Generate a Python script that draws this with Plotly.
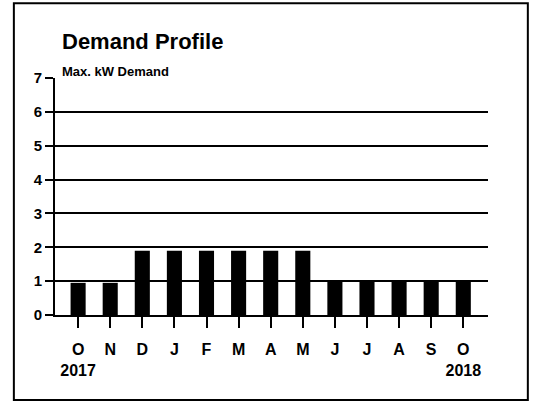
import plotly.graph_objects as go

months = ["O", "N", "D", "J", "F", "M", "A", "M", "J", "J", "A", "S", "O"]
tick_labels = ["O<br>2017", "N", "D", "J", "F", "M", "A", "M", "J", "J", "A", "S", "O<br>2018"]
demand_kw = [0.95, 0.95, 1.9, 1.9, 1.9, 1.9, 1.9, 1.9, 1.0, 1.0, 1.0, 1.0, 1.0]
y_ticks = [0, 1, 2, 3, 4, 5, 6, 7]

x_idx = list(range(len(months)))
FONT = "Liberation Sans, Arial, sans-serif"

fig = go.Figure()
fig.add_trace(go.Bar(
    x=x_idx, y=demand_kw, width=0.47,
    marker=dict(color="black", line=dict(width=0)),
    hoverinfo="skip",
))

fig.update_layout(
    width=537, height=409,
    margin=dict(l=55, r=49, t=78, b=94),
    paper_bgcolor="white", plot_bgcolor="white",
    showlegend=False,
    font=dict(family=FONT, color="black"),
    xaxis=dict(
        range=[-0.72, 12.77],
        tickmode="array", tickvals=x_idx, ticktext=tick_labels,
        ticks="outside", ticklen=11, tickwidth=2, tickcolor="black",
        ticklabelstandoff=8,
        showgrid=False, zeroline=False,
        showline=True, linecolor="black", linewidth=2,
        tickfont=dict(size=16, family=FONT, weight="bold", color="black"),
        automargin=False,
    ),
    yaxis=dict(
        range=[0, 7],
        tickmode="array", tickvals=y_ticks,
        ticks="outside", ticklen=8, tickwidth=1.5, tickcolor="black",
        showgrid=True, gridcolor="black", gridwidth=1.5,
        zeroline=False,
        showline=True, linecolor="black", linewidth=2,
        tickfont=dict(size=15, family=FONT, weight="bold", color="black"),
        automargin=False,
    ),
    annotations=[
        dict(text="Demand Profile", xref="paper", yref="paper",
             x=0.0115, y=1.152, xanchor="left", yanchor="middle",
             showarrow=False,
             font=dict(size=22, family=FONT, weight="bold", color="black")),
        dict(text="Max. kW Demand", xref="paper", yref="paper",
             x=0.0115, y=1.028, xanchor="left", yanchor="middle",
             showarrow=False,
             font=dict(size=13, family=FONT, weight="bold", color="black")),
    ],
    shapes=[
        dict(type="rect", xref="paper", yref="paper",
             x0=-0.095, x1=1.092, y0=-0.359, y1=1.315,
             line=dict(color="black", width=2), fillcolor="rgba(0,0,0,0)"),
    ],
)

fig.write_html("out.html", config={"displayModeBar": False},
               post_script="document.body.style.margin='0';")
